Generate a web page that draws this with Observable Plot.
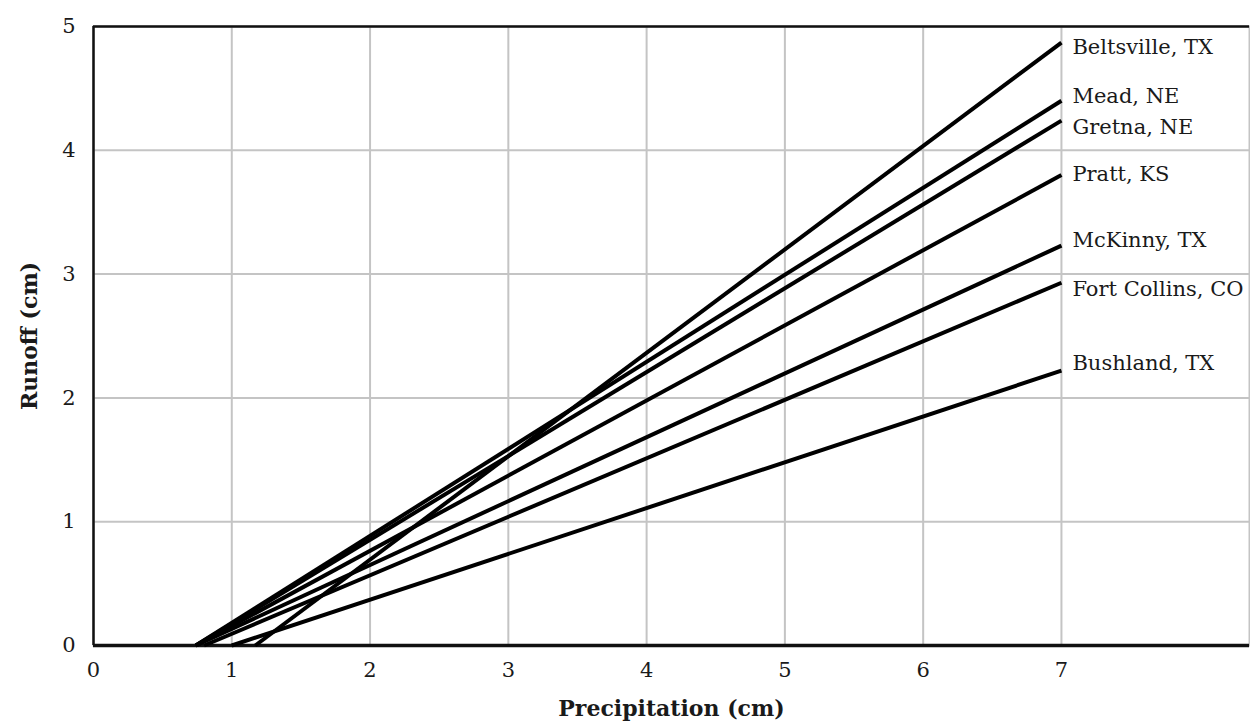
<!DOCTYPE html>
<html>
<head>
<meta charset="utf-8">
<script src="https://cdn.jsdelivr.net/npm/d3@7"></script>
<script src="https://cdn.jsdelivr.net/npm/@observablehq/plot@0.6"></script>
<style>
  html, body { margin: 0; padding: 0; background: #fff; }
  #chart svg { display: block; }
</style>
</head>
<body>
<div id="chart"></div>
<script>
const sites = ["Beltsville, TX", "Mead, NE", "Gretna, NE", "Pratt, KS", "McKinny, TX", "Fort Collins, CO", "Bushland, TX"];
const startPrecip = [1.17, 0.74, 0.74, 0.74, 0.74, 0.80, 1.0];
const startRunoff = [0, 0, 0, 0, 0, 0, 0];
const endPrecip = [7, 7, 7, 7, 7, 7, 7];
const endRunoff = [4.87, 4.40, 4.24, 3.80, 3.23, 2.93, 2.22];
const labelRunoff = [4.83, 4.44, 4.19, 3.81, 3.27, 2.88, 2.28];
const xTicks = [0, 1, 2, 3, 4, 5, 6, 7];
const yTicks = [0, 1, 2, 3, 4, 5];
const xGrid = [1, 2, 3, 4, 5, 6, 7];
const yGrid = [1, 2, 3, 4];

const lines = sites.map((s, i) => ({site: s, x1: startPrecip[i], y1: startRunoff[i], x2: endPrecip[i], y2: endRunoff[i], ly: labelRunoff[i]}));

const font = "'DejaVu Serif', 'Liberation Serif', serif";

const chart = Plot.plot({
  width: 1250,
  height: 727,
  marginLeft: 93,
  marginRight: 1,
  marginTop: 26,
  marginBottom: 82,
  style: {fontFamily: font, fontSize: "21px", color: "#1a1a1a", background: "#fff"},
  x: {domain: [0, 8.36]},
  y: {domain: [0, 5]},
  marks: [
    Plot.ruleX(xGrid, {stroke: "#c4c4c4", strokeWidth: 2}),
    Plot.ruleY(yGrid, {stroke: "#c4c4c4", strokeWidth: 2}),
    Plot.frame({stroke: "#c4c4c4", strokeWidth: 2}),
    Plot.ruleX([0], {stroke: "#111", strokeWidth: 2.5}),
    Plot.ruleY([5], {stroke: "#111", strokeWidth: 2.5}),
    Plot.ruleY([0], {stroke: "#111", strokeWidth: 3.5}),
    Plot.link(lines, {x1: "x1", y1: "y1", x2: "x2", y2: "y2", stroke: "#000", strokeWidth: 4, strokeLinecap: "butt"}),
    Plot.text(lines, {x: "x2", y: "ly", text: "site", dx: 11, textAnchor: "start", fill: "#1a1a1a", fontSize: 21}),
    Plot.axisX(xTicks, {tickSize: 0, tickPadding: 17, fontSize: 21, tickFormat: d => String(d), label: "Precipitation (cm)", labelAnchor: "center", labelArrow: "none", labelOffset: 70}),
    Plot.axisY(yTicks, {tickSize: 0, tickPadding: 18, fontSize: 21, tickFormat: d => String(d), label: "Runoff (cm)", labelAnchor: "center", labelArrow: "none", labelOffset: 72})
  ]
});

document.getElementById("chart").appendChild(chart);
// bold axis titles
chart.querySelectorAll("[aria-label='x-axis label'] text, [aria-label='y-axis label'] text").forEach(t => {
  t.setAttribute("font-weight", "bold");
  t.setAttribute("font-size", "22");
});
</script>
</body>
</html>
